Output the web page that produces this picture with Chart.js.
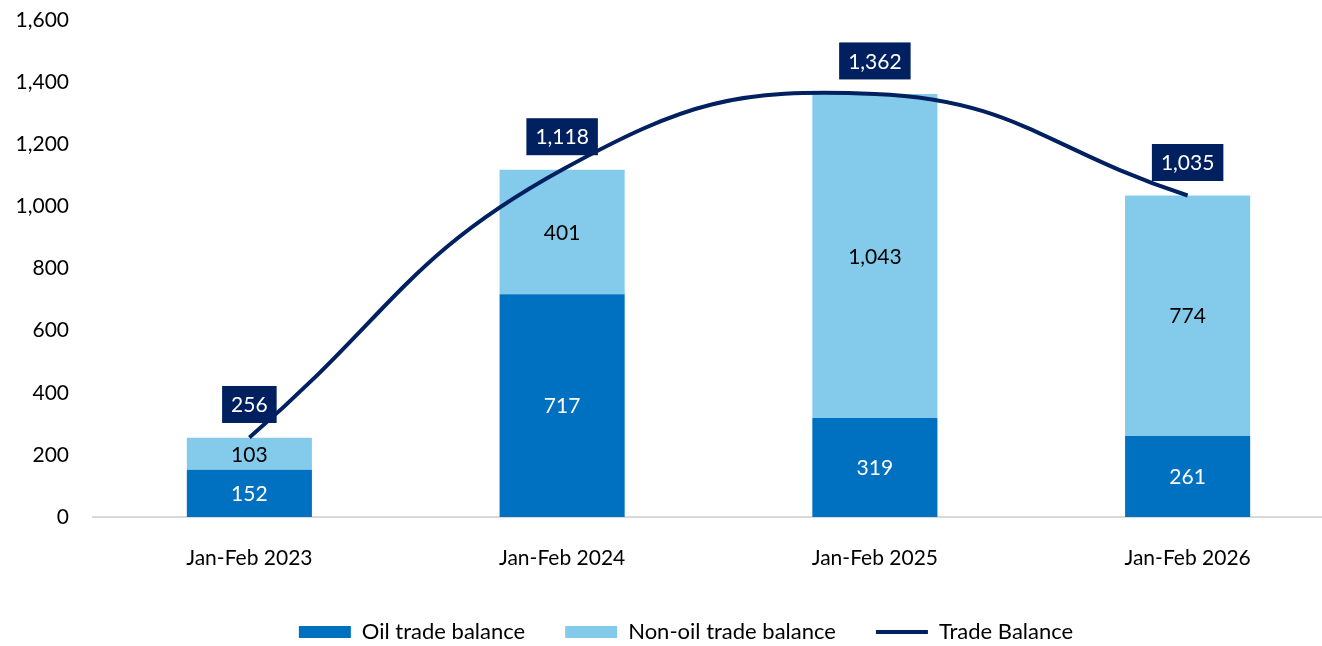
<!DOCTYPE html>
<html>
<head>
<meta charset="utf-8">
<script src="https://cdn.jsdelivr.net/npm/chart.js@4.4.1/dist/chart.umd.min.js"></script>
<style>
  html, body { margin: 0; padding: 0; background: #fff; overflow: hidden; }
  #wrap { width: 1372px; height: 646px; }
</style>
</head>
<body>
<div id="wrap"><canvas id="tradeChart"></canvas></div>
<script>
const categories = ['Jan-Feb 2023', 'Jan-Feb 2024', 'Jan-Feb 2025', 'Jan-Feb 2026'];
const oilBalance = [152, 717, 319, 261];
const nonOilBalance = [103, 401, 1043, 774];
const tradeBalance = [256, 1118, 1362, 1035];
const yTicks = [0, 200, 400, 600, 800, 1000, 1200, 1400, 1600];

const FONT = 'Lato, "Liberation Sans", sans-serif';
const fmt = v => Number(v).toLocaleString('en-US');

// value labels: centred in bars, boxed above the line points
const valueLabels = {
  id: 'valueLabels',
  afterInit(chart) {
    // wide gaps between legend items without the same gap above/below them,
    // and the legend nudged right a little (it is centred on the page, not the plot)
    const lg = chart.legend;
    if (!lg) return;
    const fit = lg.fit.bind(lg), draw = lg.draw.bind(lg);
    lg.fit = function () { fit(); this.height = 65; };
    lg.draw = function () { const c = this.ctx; c.save(); c.translate(14, 0); draw(); c.restore(); };
  },
  afterDatasetsDraw(chart) {
    const ctx = chart.ctx;
    ctx.save();
    ctx.font = '21px ' + FONT;
    ctx.textAlign = 'center';
    ctx.textBaseline = 'middle';
    chart.data.datasets.forEach((ds, i) => {
      const meta = chart.getDatasetMeta(i);
      if (meta.hidden) return;
      meta.data.forEach((el, j) => {
        const txt = fmt(ds.data[j]);
        if (ds.type === 'line') {
          const w = ctx.measureText(txt).width + 18, h = 37;
          const cx = el.x, cy = el.y - 33;
          ctx.fillStyle = '#002060';
          ctx.fillRect(cx - w / 2, cy - h / 2, w, h);
          ctx.fillStyle = '#ffffff';
          ctx.fillText(txt, cx, cy + 1);
        } else {
          ctx.fillStyle = ds.labelColor;
          ctx.fillText(txt, el.x, (el.y + el.base) / 2 + 1);
        }
      });
    });
    ctx.restore();
  }
};

new Chart(document.getElementById('tradeChart').getContext('2d'), {
  data: {
    labels: categories,
    datasets: [
      { type: 'bar', label: 'Oil trade balance', data: oilBalance, backgroundColor: '#0070C0', labelColor: '#ffffff', stack: 'bal', order: 1, barPercentage: 0.8, categoryPercentage: 0.5 },
      { type: 'bar', label: 'Non-oil trade balance', data: nonOilBalance, backgroundColor: '#84CBEB', labelColor: '#000000', stack: 'bal', order: 1, barPercentage: 0.8, categoryPercentage: 0.5 },
      { type: 'line', label: 'Trade Balance', data: tradeBalance, borderColor: '#002060', backgroundColor: '#002060', borderWidth: 4, pointRadius: 0, tension: 0.45, stack: 'total', order: 0, pointStyle: 'line' }
    ]
  },
  options: {
    responsive: true, maintainAspectRatio: false, animation: false,
    layout: { padding: { top: 0, right: 28, left: 0, bottom: 0 } },
    plugins: {
      tooltip: { enabled: false },
      legend: {
        position: 'bottom',
        labels: {
          font: { family: FONT, size: 22 }, color: '#000',
          usePointStyle: true, pointStyleWidth: 52, boxHeight: 12, padding: 40,
          generateLabels(chart) {
            return chart.data.datasets.map((ds, i) => ({
              text: ds.label, datasetIndex: i,
              fillStyle: ds.backgroundColor, strokeStyle: ds.type === 'line' ? ds.borderColor : ds.backgroundColor,
              lineWidth: ds.type === 'line' ? 4 : 0,
              pointStyle: ds.type === 'line' ? 'line' : 'rect', fontColor: '#000'
            }));
          }
        }
      }
    },
    scales: {
      x: {
        stacked: true,
        grid: { display: false },
        border: { color: '#D9D9D9', width: 2 },
        ticks: { font: { family: FONT, size: 21 }, color: '#000', padding: 21 },
        afterFit(s) { s.height = 64; }
      },
      y: {
        stacked: true, min: 0, max: 1600,
        afterBuildTicks(s) { s.ticks = yTicks.map(v => ({ value: v })); },
        grid: { display: false },
        border: { display: false },
        ticks: { font: { family: FONT, size: 21 }, color: '#000', padding: 16, callback: v => fmt(v) },
        afterFit(s) { s.width = 93; s.paddingTop = 20; s.paddingBottom = 0; }
      }
    }
  },
  plugins: [valueLabels]
});
</script>
</body>
</html>
